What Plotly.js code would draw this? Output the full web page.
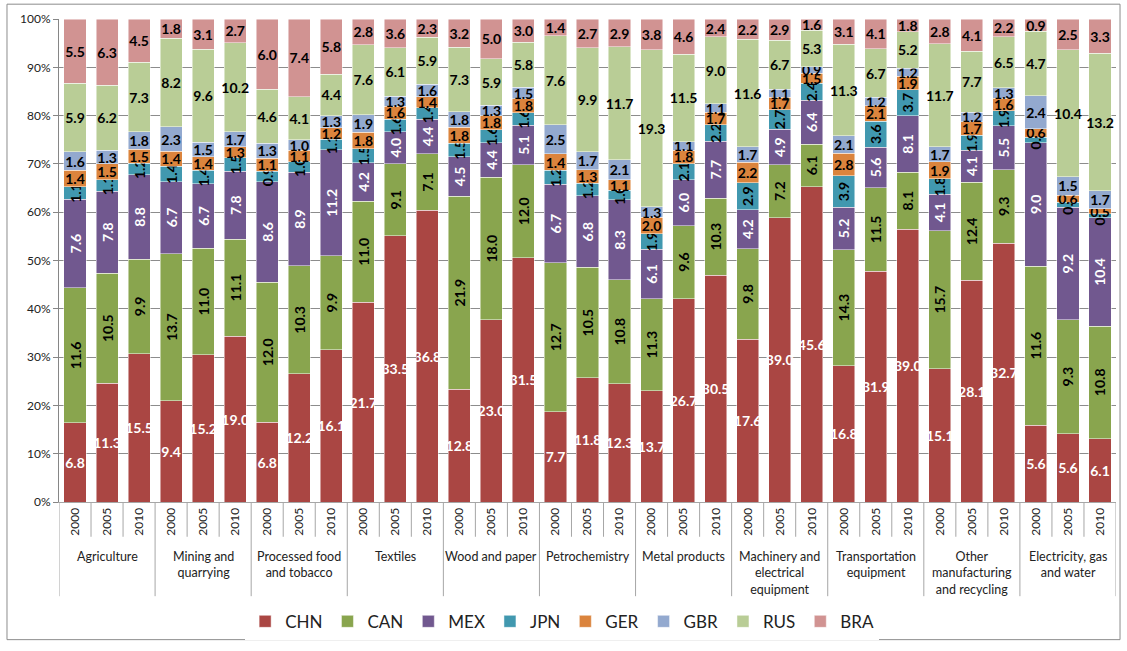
<!DOCTYPE html>
<html><head><meta charset="utf-8">
<script src="https://cdn.plot.ly/plotly-3.0.1.min.js"></script>
<style>html,body{margin:0;padding:0;background:#fff}#chart{width:1127px;height:651px}</style>
</head><body><div id="chart"></div>
<script>
const sectors = ["Agriculture","Mining and<br>quarrying","Processed food<br>and tobacco","Textiles","Wood and paper","Petrochemistry","Metal products","Machinery and<br>electrical<br>equipment","Transportation<br>equipment","Other<br>manufacturing<br>and recycling","Electricity, gas<br>and water"];
const years = ["2000","2005","2010"];

const CHN = [6.8,11.3,15.5, 9.4,15.2,19.0, 6.8,12.2,16.1, 21.7,33.5,36.8, 12.8,23.0,31.5, 7.7,11.8,12.3, 13.7,26.7,30.5, 17.6,39.0,45.6, 16.8,31.9,39.0, 15.1,28.1,32.7, 5.6,5.6,6.1];
const CAN = [11.6,10.5,9.9, 13.7,11.0,11.1, 12.0,10.3,9.9, 11.0,9.1,7.1, 21.9,18.0,12.0, 12.7,10.5,10.8, 11.3,9.6,10.3, 9.8,7.2,6.1, 14.3,11.5,8.1, 15.7,12.4,9.3, 11.6,9.3,10.8];
const MEX = [7.6,7.8,8.8, 6.7,6.7,7.8, 8.6,8.9,11.2, 4.2,4.0,4.4, 4.5,4.4,5.1, 6.7,6.8,8.3, 6.1,6.0,7.7, 4.2,4.9,6.4, 5.2,5.6,8.1, 4.1,4.1,5.5, 9.0,9.2,10.4];
const JPN = [1.1,1.1,1.2, 1.4,1.4,1.5, 0.9,1.0,1.1, 1.5,1.6,1.4, 1.5,1.6,1.6, 1.2,1.2,1.0, 1.9,2.1,2.2, 2.9,2.7,2.4, 3.9,3.6,3.7, 1.8,1.9,1.9, 0.4,0.4,0.4];
const GER = [1.4,1.5,1.5, 1.4,1.4,1.3, 1.1,1.1,1.2, 1.8,1.6,1.4, 1.8,1.8,1.8, 1.4,1.3,1.1, 2.0,1.8,1.7, 2.2,1.7,1.5, 2.8,2.1,1.9, 1.9,1.7,1.6, 0.6,0.6,0.5];
const GBR = [1.6,1.3,1.8, 2.3,1.5,1.7, 1.3,1.0,1.3, 1.9,1.3,1.6, 1.8,1.3,1.5, 2.5,1.7,2.1, 1.3,1.1,1.1, 1.7,1.1,0.9, 2.1,1.2,1.2, 1.7,1.2,1.3, 2.4,1.5,1.7];
const RUS = [5.9,6.2,7.3, 8.2,9.6,10.2, 4.6,4.1,4.4, 7.6,6.1,5.9, 7.3,5.9,5.8, 7.6,9.9,11.7, 19.3,11.5,9.0, 11.6,6.7,5.3, 11.3,6.7,5.2, 11.7,7.7,6.5, 4.7,10.4,13.2];
const BRA = [5.5,6.3,4.5, 1.8,3.1,2.7, 6.0,7.4,5.8, 2.8,3.6,2.3, 3.2,5.0,3.0, 1.4,2.7,2.9, 3.8,4.6,2.4, 2.2,2.9,1.6, 3.1,4.1,1.8, 2.8,4.1,2.2, 0.9,2.5,3.3];

const seriesNames = ["CHN","CAN","MEX","JPN","GER","GBR","RUS","BRA"];
const seriesValues = [CHN,CAN,MEX,JPN,GER,GBR,RUS,BRA];
const colors = ["#AA4643","#89A54E","#71588F","#4198AF","#DB843D","#93A9CF","#B9CD96","#D19392"];
const textColors = ["#ffffff","#000000","#ffffff","#000000","#000000","#000000","#000000","#000000"];
const textAngles = [0,-90,-90,-90,0,0,0,0];

const xs = [], tickText = [];
sectors.forEach((s,g)=>years.forEach((y,j)=>{ xs.push(g*years.length+j); tickText.push(y); }));

const FONT = "Lato, 'Open Sans', sans-serif";
const traces = seriesNames.map((name,i)=>({
  type:'bar', name:name, x:xs, y:seriesValues[i],
  marker:{color:colors[i], line:{color:'rgba(255,255,255,0.8)', width:0.6}},
  text:seriesValues[i].map(v=>v.toFixed(1)),
  textposition:'inside', insidetextanchor:'middle', textangle:textAngles[i],
  constraintext:'none', cliponaxis:false,
  textfont:{family:FONT, size:14, color:textColors[i], weight:700},
  hoverinfo:'skip'
}));

const shapes = [];
const n = years.length;
for (let k=0;k<xs.length-1;k++){
  if ((k+1)%n!==0) shapes.push({type:'line', xref:'x', yref:'paper', x0:k+0.5, x1:k+0.5, y0:0, y1:-0.072, line:{color:'#A6A6A6', width:1}});
}
for (let g=0; g<=sectors.length; g++){
  shapes.push({type:'line', xref:'x', yref:'paper', x0:g*n-0.5, x1:g*n-0.5, y0:0, y1:-0.195, line:{color:'#A6A6A6', width:1}});
}
shapes.push({type:'rect', xref:'paper', yref:'paper', x0:-0.0492, x1:1.0038, y0:-0.285, y1:1.0307, line:{color:'#8C8C8C', width:1}});

const annotations = sectors.map((s,g)=>({
  xref:'x', yref:'paper', x:g*n+(n-1)/2, y:-0.094, yanchor:'top', xanchor:'center',
  text:s, showarrow:false, font:{family:FONT, size:12.5, color:'#222'}, align:'center'
}));

const layout = {
  width:1127, height:651,
  margin:{l:59, r:11, t:19, b:144},
  paper_bgcolor:'#fff', plot_bgcolor:'#fff',
  barmode:'stack', barnorm:'percent', bargap:0.31,
  font:{family:FONT, color:'#222'},
  xaxis:{range:[-0.5, xs.length-0.5], tickmode:'array', tickvals:xs, ticktext:tickText, tickangle:-90,
         showgrid:false, zeroline:false, showline:true, linecolor:'#A6A6A6', ticks:'', tickfont:{size:12, color:'#222'}},
  yaxis:{range:[0,100.02], tick0:0, dtick:10, ticksuffix:'%', showticksuffix:'all', showline:true, linecolor:'#868686', gridcolor:'#8C8C8C',
         ticks:'outside', ticklen:5, tickcolor:'#868686', zeroline:false, tickfont:{size:12, color:'#222'}},
  showlegend:true,
  legend:{orientation:'h', traceorder:'normal', x:0.476, xanchor:'center', y:-0.248, yanchor:'middle',
          font:{size:17, color:'#222'}, itemwidth:30},
  shapes:shapes, annotations:annotations
};
Plotly.newPlot('chart', traces, layout, {displayModeBar:false, staticPlot:true});
</script></body></html>
